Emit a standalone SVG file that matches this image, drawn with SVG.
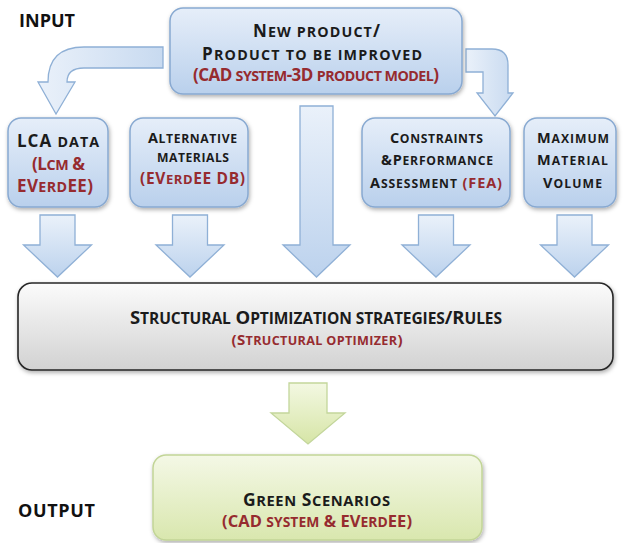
<svg xmlns="http://www.w3.org/2000/svg" width="623" height="543" viewBox="0 0 623 543">
<defs>
<linearGradient id="gBox" x1="0" y1="0" x2="0" y2="1">
<stop offset="0" stop-color="#e6eef9"/><stop offset="1" stop-color="#b9d0ec"/>
</linearGradient>
<linearGradient id="gArr" x1="0" y1="0" x2="0" y2="1">
<stop offset="0" stop-color="#eaf1fa"/><stop offset="1" stop-color="#bcd2ed"/>
</linearGradient>
<linearGradient id="gArrH" x1="0" y1="0" x2="1" y2="0">
<stop offset="0" stop-color="#eaf1fa"/><stop offset="1" stop-color="#c8daf0"/>
</linearGradient>
<linearGradient id="gGray" x1="0" y1="0" x2="0" y2="1">
<stop offset="0" stop-color="#fbfbfb"/><stop offset="1" stop-color="#d2d2d2"/>
</linearGradient>
<linearGradient id="gGreen" x1="0" y1="0" x2="0" y2="1">
<stop offset="0" stop-color="#f4f8e6"/><stop offset="1" stop-color="#d9e7ae"/>
</linearGradient>
<linearGradient id="gGreenA" x1="0" y1="0" x2="0" y2="1">
<stop offset="0" stop-color="#f3f8e2"/><stop offset="1" stop-color="#d6e5a6"/>
</linearGradient>
<filter id="sh" x="-10%" y="-10%" width="125%" height="130%">
<feDropShadow dx="1" dy="2" stdDeviation="2" flood-color="#000" flood-opacity="0.32"/>
</filter>
<path id="dn" d="M-17.5,0 H17.5 V30 H34 L0,62 L-34,30 H-17.5 Z"/>
</defs>
<style>
.box{fill:url(#gBox);stroke:#88a9d1;stroke-width:1.5;filter:url(#sh)}
.arr{fill:url(#gArr);stroke:#8fb0d6;stroke-width:1.3}
.t{font-family:"Open Sans",Lato,"Liberation Sans",sans-serif;font-weight:700;text-anchor:middle;fill:#1b1b1b}
.s{font-size:0.84em}
.r{fill:#962b2f}
.lab{font-family:"Open Sans",Lato,"Liberation Sans",sans-serif;font-weight:700;font-size:18px;fill:#111}
</style>

<text class="lab" x="19" y="27" textLength="56">INPUT</text>
<text class="lab" x="18" y="517" textLength="77">OUTPUT</text>

<g id="connectors">
<path class="arr" style="fill:url(#gArrH)" d="M163,47 H84 Q48,47 48,82 H38 L56,114 L75,82 H67 Q67,68 84,68 H163 Z"/>
<path class="arr" style="fill:url(#gArrH)" d="M466,49 H492 Q508,49 508,65 V93 H513 L495,116 L477,93 H483 V72 H466 Z"/>
<path class="arr" d="M300,106 H333 V245 H350 L316.5,277 L283,245 H300 Z"/>
<use href="#dn" class="arr" x="57.5" y="215"/>
<use href="#dn" class="arr" x="190" y="215"/>
<use href="#dn" class="arr" x="436" y="215"/>
<use href="#dn" class="arr" x="574.5" y="215"/>
<path d="M289,383 H327 V413 H345 L308,444 L271,413 H289 Z" fill="url(#gGreenA)" stroke="#c3d69b" stroke-width="1.3"/>
</g>

<g id="new-product">
<rect class="box" x="170" y="8" width="292" height="86" rx="13"/>
<text class="t" x="316.5" y="37" font-size="17" textLength="127">N<tspan class="s">EW PRODUCT</tspan>/</text>
<text class="t" x="312" y="60" font-size="17" textLength="220">P<tspan class="s">RODUCT TO BE IMPROVED</tspan></text>
<text class="t r" x="316" y="81" font-size="17" textLength="246">(CAD <tspan class="s">SYSTEM</tspan>-3D <tspan class="s">PRODUCT MODEL</tspan>)</text>
</g>

<g id="lca-data">
<rect class="box" x="8" y="118" width="100" height="89" rx="13"/>
<text class="t" x="58" y="147" font-size="17" textLength="82">LCA <tspan class="s">DATA</tspan></text>
<text class="t r" x="58.5" y="170" font-size="17" textLength="53">(L<tspan class="s">CM</tspan> &amp;</text>
<text class="t r" x="55" y="192" font-size="17" textLength="76">EV<tspan class="s">ERD</tspan>EE)</text>
</g>

<g id="alternative-materials">
<rect class="box" x="130" y="118" width="118" height="89" rx="13"/>
<text class="t" x="192.5" y="143" font-size="14.5" textLength="89">A<tspan class="s">LTERNATIVE</tspan></text>
<text class="t" x="193" y="162" font-size="14.5" textLength="72"><tspan class="s">MATERIALS</tspan></text>
<text class="t r" x="192.5" y="184" font-size="15.5" textLength="105">(EV<tspan class="s">ERD</tspan>EE DB)</text>
</g>

<g id="constraints">
<rect class="box" x="362" y="118" width="148" height="89" rx="13"/>
<text class="t" x="436.5" y="143" font-size="14.5" textLength="93">C<tspan class="s">ONSTRAINTS</tspan></text>
<text class="t" x="437" y="165" font-size="14.5" textLength="112">&amp;P<tspan class="s">ERFORMANCE</tspan></text>
<text class="t" x="436" y="188" font-size="14.5" textLength="132">A<tspan class="s">SSESSMENT</tspan> <tspan class="r">(FEA)</tspan></text>
</g>

<g id="maximum-volume">
<rect class="box" x="524" y="118" width="92" height="89" rx="13"/>
<text class="t" x="573" y="143" font-size="14.5" textLength="72">M<tspan class="s">AXIMUM</tspan></text>
<text class="t" x="572.5" y="165" font-size="14.5" textLength="71">M<tspan class="s">ATERIAL</tspan></text>
<text class="t" x="572.5" y="188" font-size="14.5" textLength="59">V<tspan class="s">OLUME</tspan></text>
</g>

<g id="structural-optimization">
<rect x="18" y="283" width="595" height="87" rx="14" fill="url(#gGray)" stroke="#262626" stroke-width="1.6" filter="url(#sh)"/>
<text class="t" x="316" y="324" font-size="18.5" textLength="372">S<tspan class="s">TRUCTURAL</tspan> O<tspan class="s">PTIMIZATION STRATEGIES</tspan>/R<tspan class="s">ULES</tspan></text>
<text class="t r" x="317" y="345" font-size="15" textLength="171">(S<tspan class="s">TRUCTURAL OPTIMIZER</tspan>)</text>
</g>

<g id="green-scenarios">
<rect x="153" y="455" width="329" height="85" rx="13" fill="url(#gGreen)" stroke="#c2d597" stroke-width="1.5" filter="url(#sh)"/>
<text class="t" x="316.5" y="506" font-size="17.5" textLength="147">G<tspan class="s">REEN</tspan> S<tspan class="s">CENARIOS</tspan></text>
<text class="t r" x="317" y="527" font-size="16.5" textLength="190">(CAD <tspan class="s">SYSTEM</tspan> &amp; EV<tspan class="s">ERD</tspan>EE)</text>
</g>
</svg>
